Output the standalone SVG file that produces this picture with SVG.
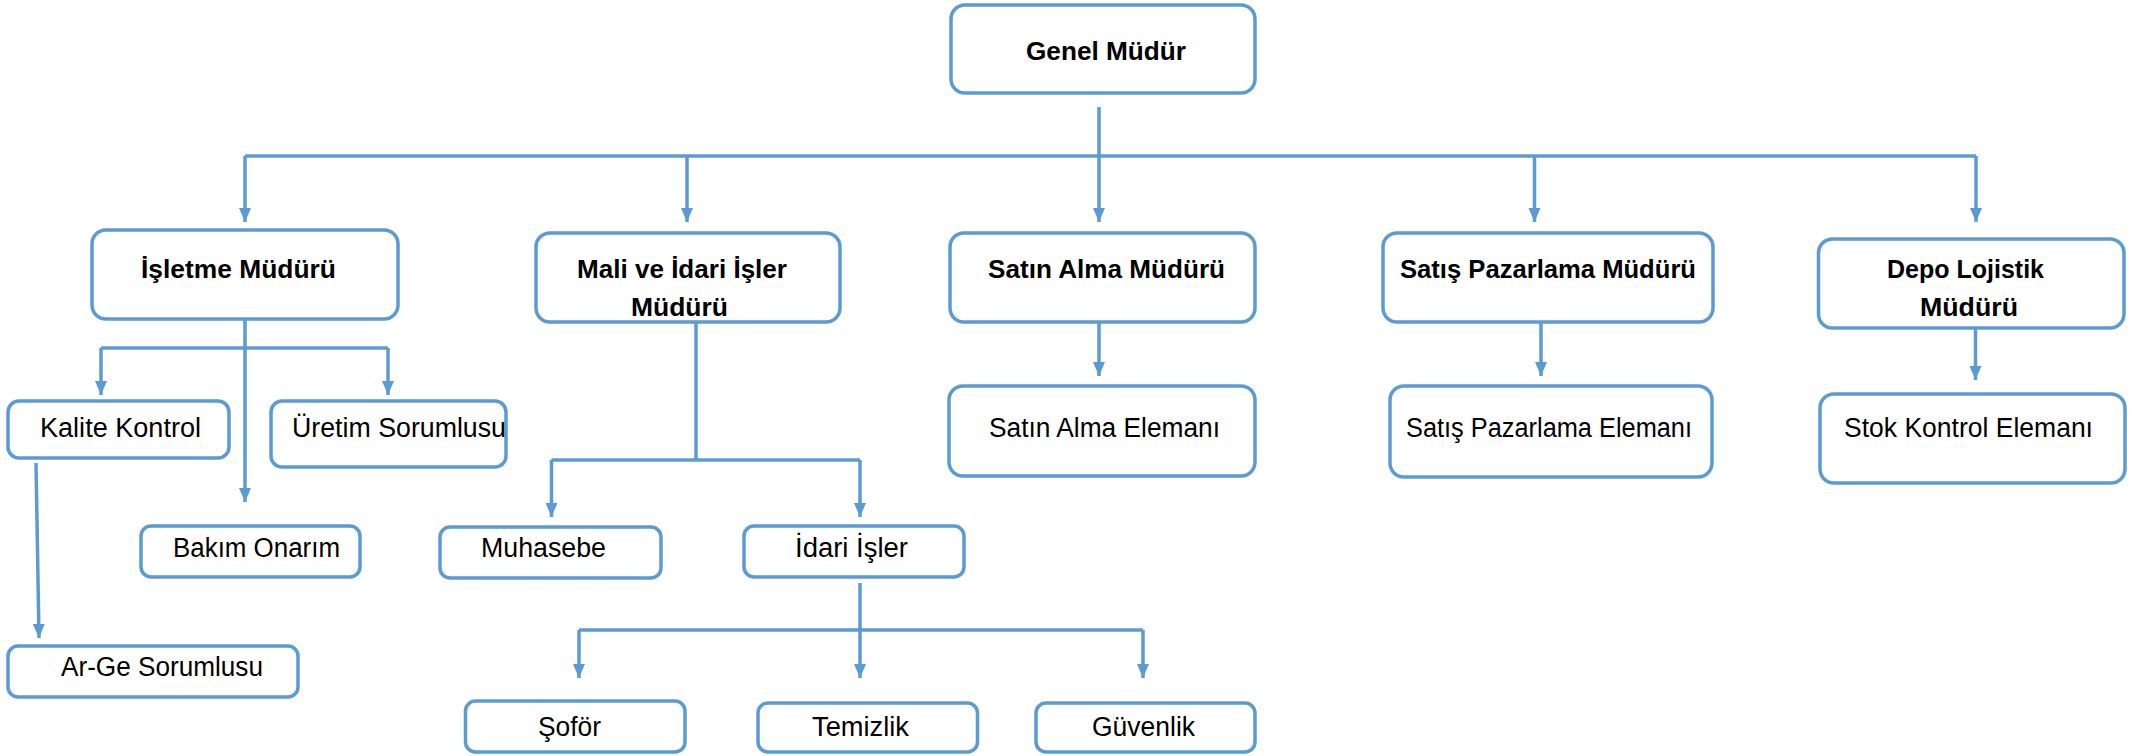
<svg xmlns="http://www.w3.org/2000/svg" width="2139" height="756" viewBox="0 0 2139 756">
<style>
.box{fill:#fff;stroke:#5B9BD5;stroke-width:3.5}
.t{font-family:"Liberation Sans",Arial,sans-serif;font-size:27px;fill:#000}
.b{font-weight:bold;font-size:26px}
.c{stroke:#5B9BD5;stroke-width:3.5;fill:none}
.a{marker-end:url(#arr)}
</style>
<defs>
<marker id="arr" viewBox="0 0 14 14" refX="14" refY="7" markerWidth="14" markerHeight="14" markerUnits="userSpaceOnUse" orient="auto">
<path d="M0,1 L14,7 L0,13 z" fill="#5B9BD5"/>
</marker>
</defs>
<rect width="2139" height="756" fill="#fff"/>
<g id="connectors">
<path class="c a" d="M1099,107 V222"/>
<path class="c" d="M245,156 H1976"/>
<path class="c a" d="M245,156 V222"/>
<path class="c a" d="M687,156 V222"/>
<path class="c a" d="M1534.5,156 V222"/>
<path class="c a" d="M1976,156 V222"/>
<path class="c a" d="M245,319 V502"/>
<path class="c" d="M101,348 H388"/>
<path class="c a" d="M101,348 V395"/>
<path class="c a" d="M388,348 V395"/>
<path class="c a" d="M36,463 L39,638"/>
<path class="c" d="M696,322 V460"/>
<path class="c" d="M551.5,460 H860"/>
<path class="c a" d="M551.5,460 V517"/>
<path class="c a" d="M860,460 V517"/>
<path class="c a" d="M860,583 V678"/>
<path class="c" d="M579,630 H1143"/>
<path class="c a" d="M579,630 V678"/>
<path class="c a" d="M1143,630 V678"/>
<path class="c a" d="M1099,322 V376"/>
<path class="c a" d="M1541,322 V376"/>
<path class="c a" d="M1975.5,328 V380"/>
</g>
<g id="genel"><rect class="box" x="951" y="5" width="304" height="88" rx="14"/><text class="t b" x="1026" y="60" textLength="160" lengthAdjust="spacingAndGlyphs">Genel Müdür</text></g>
<g id="isletme"><rect class="box" x="92" y="230" width="306" height="89" rx="14"/><text class="t b" x="141" y="278" textLength="195" lengthAdjust="spacingAndGlyphs">İşletme Müdürü</text></g>
<g id="mali"><rect class="box" x="536" y="233" width="304" height="89" rx="14"/><text class="t b" x="577" y="278" textLength="210" lengthAdjust="spacingAndGlyphs">Mali ve İdari İşler</text><text class="t b" x="631" y="316" textLength="97" lengthAdjust="spacingAndGlyphs">Müdürü</text></g>
<g id="satinalma"><rect class="box" x="950" y="233" width="305" height="89" rx="14"/><text class="t b" x="988" y="278" textLength="237" lengthAdjust="spacingAndGlyphs">Satın Alma Müdürü</text></g>
<g id="satis"><rect class="box" x="1383" y="233" width="330" height="89" rx="14"/><text class="t b" x="1400" y="278" textLength="296" lengthAdjust="spacingAndGlyphs">Satış Pazarlama Müdürü</text></g>
<g id="depo"><rect class="box" x="1818.5" y="239" width="305.5" height="89" rx="14"/><text class="t b" x="1887" y="278" textLength="157" lengthAdjust="spacingAndGlyphs">Depo Lojistik</text><text class="t b" x="1920" y="316" textLength="98" lengthAdjust="spacingAndGlyphs">Müdürü</text></g>
<g id="satinalma-eleman"><rect class="box" x="949" y="386" width="306" height="90" rx="14"/><text class="t" x="989" y="437" textLength="231" lengthAdjust="spacingAndGlyphs">Satın Alma Elemanı</text></g>
<g id="satis-eleman"><rect class="box" x="1390" y="386" width="322" height="91" rx="14"/><text class="t" x="1406" y="437" textLength="286" lengthAdjust="spacingAndGlyphs">Satış Pazarlama Elemanı</text></g>
<g id="stok"><rect class="box" x="1820" y="394" width="305" height="89" rx="14"/><text class="t" x="1844" y="437" textLength="249" lengthAdjust="spacingAndGlyphs">Stok Kontrol Elemanı</text></g>
<g id="kalite"><rect class="box" x="8" y="401" width="221" height="57" rx="11"/><text class="t" x="40" y="437" textLength="161" lengthAdjust="spacingAndGlyphs">Kalite Kontrol</text></g>
<g id="uretim"><rect class="box" x="271" y="401" width="235" height="66" rx="11"/><text class="t" x="292" y="437" textLength="214" lengthAdjust="spacingAndGlyphs">Üretim Sorumlusu</text></g>
<g id="bakim"><rect class="box" x="141" y="526" width="219" height="51" rx="10"/><text class="t" x="173" y="557" textLength="167" lengthAdjust="spacingAndGlyphs">Bakım Onarım</text></g>
<g id="arge"><rect class="box" x="8" y="646" width="290" height="51" rx="10"/><text class="t" x="61" y="676" textLength="202" lengthAdjust="spacingAndGlyphs">Ar-Ge Sorumlusu</text></g>
<g id="muhasebe"><rect class="box" x="440" y="527" width="221" height="51" rx="10"/><text class="t" x="481" y="557" textLength="125" lengthAdjust="spacingAndGlyphs">Muhasebe</text></g>
<g id="idari"><rect class="box" x="744" y="526" width="220" height="51" rx="10"/><text class="t" x="795" y="557" textLength="113" lengthAdjust="spacingAndGlyphs">İdari İşler</text></g>
<g id="sofor"><rect class="box" x="465.5" y="701" width="219.5" height="51" rx="10"/><text class="t" x="538" y="736" textLength="63" lengthAdjust="spacingAndGlyphs">Şoför</text></g>
<g id="temizlik"><rect class="box" x="758" y="703" width="219.5" height="49" rx="10"/><text class="t" x="812" y="736" textLength="97" lengthAdjust="spacingAndGlyphs">Temizlik</text></g>
<g id="guvenlik"><rect class="box" x="1036" y="703" width="219" height="49" rx="10"/><text class="t" x="1092" y="736" textLength="103" lengthAdjust="spacingAndGlyphs">Güvenlik</text></g>
</svg>
